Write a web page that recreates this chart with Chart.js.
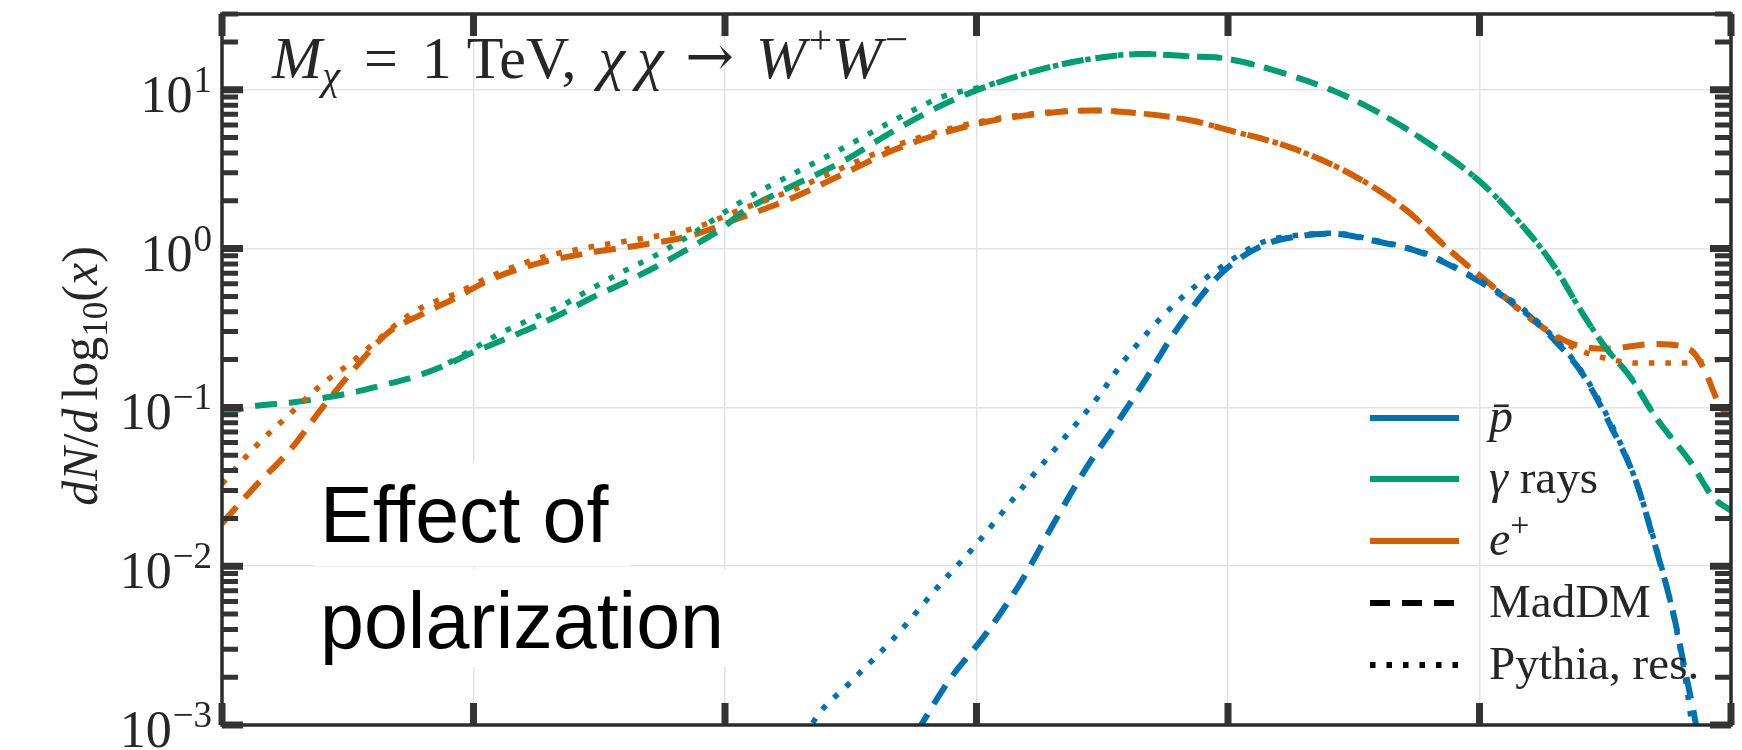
<!DOCTYPE html>
<html>
<head>
<meta charset="utf-8">
<script src="https://cdn.jsdelivr.net/npm/chart.js@4.4.1/dist/chart.umd.min.js"></script>
<style>
  html, body { margin: 0; padding: 0; background: #fff; }
  #wrap { width: 1742px; height: 750px; position: relative; }
</style>
</head>
<body>
<div id="wrap"><canvas id="spectra"></canvas></div>
<script>
// x values are log10(x), y values are dN/dlog10(x)

// gamma rays
const gammaMadX = [-6.00, -5.87, -5.73, -5.49, -5.36, -5.24, -5.12, -5.01, -4.89, -4.77, -4.65, -4.53, -4.41, -4.28, -4.14, -4.01, -3.93, -3.77, -3.53, -3.33, -3.13, -2.98, -2.74, -2.54, -2.34, -2.14, -2.02, -1.75, -1.49, -1.22, -0.99, -0.80, -0.70, -0.59, -0.50, -0.40, -0.30, -0.16, -0.07, 0.00];
const gammaMadY = [0.091, 0.102, 0.107, 0.123, 0.138, 0.155, 0.182, 0.219, 0.263, 0.316, 0.389, 0.49, 0.60, 0.76, 1.01, 1.35, 1.70, 2.32, 3.55, 5.5, 8.1, 10.2, 13.5, 15.7, 16.8, 16.2, 15.8, 12.3, 8.5, 4.8, 2.57, 1.23, 0.76, 0.39, 0.24, 0.155, 0.087, 0.045, 0.027, 0.0224];
const gammaPyX = [-5.10, -5.01, -4.89, -4.77, -4.65, -4.53, -4.41, -4.28, -4.14, -3.93, -3.73, -3.53, -3.33, -3.13, -2.98, -2.74, -2.54, -2.34, -2.14, -2.02, -1.75, -1.49, -1.22, -0.99, -0.80, -0.70, -0.59, -0.50, -0.40, -0.30, -0.16, -0.07, 0.00];
const gammaPyY = [0.19, 0.229, 0.295, 0.36, 0.437, 0.56, 0.71, 0.90, 1.21, 2.0, 2.95, 4.3, 6.4, 9.1, 10.4, 13.5, 15.7, 16.8, 16.2, 15.8, 12.3, 8.5, 4.8, 2.57, 1.23, 0.76, 0.39, 0.24, 0.155, 0.087, 0.045, 0.027, 0.0224];

// positrons
const posMadX = [-6.00, -5.87, -5.73, -5.60, -5.47, -5.34, -5.20, -5.07, -4.94, -4.74, -4.54, -4.34, -4.14, -3.93, -3.73, -3.53, -3.33, -3.13, -2.94, -2.74, -2.54, -2.34, -2.14, -2.02, -1.75, -1.49, -1.29, -1.12, -0.96, -0.79, -0.63, -0.50, -0.30, -0.16, -0.11, -0.04, 0.00];
const posMadY = [0.0186, 0.0316, 0.0537, 0.100, 0.178, 0.295, 0.389, 0.49, 0.63, 0.81, 0.94, 1.05, 1.20, 1.58, 2.09, 2.95, 4.17, 5.37, 6.38, 7.08, 7.41, 7.08, 6.38, 5.69, 4.32, 2.82, 1.74, 0.98, 0.60, 0.355, 0.251, 0.234, 0.251, 0.229, 0.178, 0.100, 0.089];
const posPyX = [-6.00, -5.87, -5.73, -5.60, -5.49, -5.40, -5.30, -5.20, -5.07, -4.94, -4.74, -4.54, -4.34, -4.14, -3.93, -3.73, -3.53, -3.33, -3.13, -2.94, -2.74, -2.54, -2.34, -2.14, -2.02, -1.75, -1.49, -1.29, -1.12, -0.96, -0.79, -0.63, -0.50, -0.37, -0.16, -0.04, 0.00];
const posPyY = [0.033, 0.056, 0.091, 0.141, 0.19, 0.25, 0.34, 0.43, 0.52, 0.66, 0.87, 1.02, 1.15, 1.32, 1.78, 2.34, 3.24, 4.4, 5.56, 6.5, 7.16, 7.41, 7.08, 6.38, 5.69, 4.32, 2.82, 1.74, 0.98, 0.60, 0.355, 0.24, 0.204, 0.19, 0.19, 0.20, 0.20];

// antiprotons
const pbarMadX = [-3.24, -3.11, -2.96, -2.82, -2.70, -2.57, -2.43, -2.33, -2.21, -2.03, -1.86, -1.71, -1.58, -1.42, -1.22, -1.03, -0.83, -0.70, -0.59, -0.47, -0.38, -0.30, -0.23, -0.18, -0.14, -0.12];
const pbarMadY = [0.00089, 0.0019, 0.0038, 0.0081, 0.0178, 0.040, 0.085, 0.148, 0.30, 0.69, 1.05, 1.20, 1.24, 1.12, 0.93, 0.66, 0.41, 0.263, 0.162, 0.072, 0.035, 0.0132, 0.0051, 0.0021, 0.00102, 0.00063];
const pbarPyX = [-3.68, -3.64, -3.51, -3.33, -3.16, -3.00, -2.83, -2.67, -2.51, -2.41, -2.21, -2.03, -1.86, -1.71, -1.58, -1.42, -1.22, -1.03, -0.83, -0.70, -0.59, -0.47, -0.38, -0.30, -0.23, -0.18, -0.15];
const pbarPyY = [0.00083, 0.0011, 0.0018, 0.0035, 0.0072, 0.0138, 0.0295, 0.059, 0.12, 0.20, 0.45, 0.76, 1.10, 1.22, 1.25, 1.13, 0.94, 0.67, 0.42, 0.27, 0.165, 0.075, 0.035, 0.0135, 0.0050, 0.0019, 0.00085];

// axes
const xTicks = [-6, -5, -4, -3, -2, -1, 0];
const yTickExps = [-3, -2, -1, 0, 1];
const yMax = 30;

const BLUE = '#0072B2', GREEN = '#009E73', ORANGE = '#D55E00';
const INK = '#262626';
const DASH = [22, 12], DOT = [5.5, 11];

function pts(xs, ys) { return xs.map((x, i) => ({ x: x, y: ys[i] })); }

function series(label, xs, ys, color, dash, order) {
    return {
        label: label,
        data: pts(xs, ys),
        borderColor: color,
        borderWidth: dash === DOT ? 5.5 : 6,
        borderDash: dash,
        borderCapStyle: 'butt',
        cubicInterpolationMode: 'monotone',
        pointRadius: 0,
        fill: false,
        order: order
    };
}

// draw a row of text pieces with their own fonts / vertical offsets
function drawRuns(ctx, x, y, runs) {
    runs.forEach(r => {
        ctx.font = r.font;
        ctx.fillText(r.t, x, y + (r.dy || 0));
        x += ctx.measureText(r.t).width + (r.gap || 0);
    });
    return x;
}
function runsWidth(ctx, runs) {
    let w = 0;
    runs.forEach(r => { ctx.font = r.font; w += ctx.measureText(r.t).width + (r.gap || 0); });
    return w;
}

const SERIF = '"Liberation Serif", "DejaVu Serif", serif';
const it = s => 'italic ' + s + 'px ' + SERIF;
const rm = s => s + 'px ' + SERIF;

const decorations = {
    id: 'decorations',
    beforeDatasetsDraw(chart) {
        // white boxes behind the pasted-in label (they hide the grid)
        const ctx = chart.ctx;
        ctx.save();
        ctx.fillStyle = '#fff';
        ctx.fillRect(315, 463, 315, 103);
        ctx.fillRect(315, 569, 413, 98);
        ctx.restore();
    },
    afterDraw(chart) {
        const ctx = chart.ctx;
        const a = chart.chartArea;
        const xs = chart.scales.x, ys = chart.scales.y;
        ctx.save();

        // frame
        ctx.strokeStyle = '#2b2b2b';
        ctx.lineWidth = 3.5;
        ctx.strokeRect(a.left, a.top, a.right - a.left, a.bottom - a.top);

        // y ticks, both sides, pointing in
        ctx.strokeStyle = '#333';
        yTickExps.forEach(e => {
            for (let k = 1; k <= 9; k++) {
                const v = k * Math.pow(10, e);
                if (v > yMax) break;
                const py = ys.getPixelForValue(v);
                const len = k === 1 ? 21 : 16;
                ctx.lineWidth = k === 1 ? 7 : 5;
                ctx.beginPath();
                ctx.moveTo(a.left, py); ctx.lineTo(a.left + len, py);
                ctx.moveTo(a.right, py); ctx.lineTo(a.right - len, py);
                ctx.stroke();
            }
        });
        // x ticks, top and bottom
        ctx.lineWidth = 7;
        xTicks.forEach(v => {
            const px = xs.getPixelForValue(v);
            ctx.beginPath();
            ctx.moveTo(px, a.bottom); ctx.lineTo(px, a.bottom - 22);
            ctx.moveTo(px, a.top); ctx.lineTo(px, a.top + 22);
            ctx.stroke();
        });

        ctx.fillStyle = INK;
        ctx.textBaseline = 'alphabetic';

        // y tick labels 10^n
        yTickExps.forEach(e => {
            const py = ys.getPixelForValue(Math.pow(10, e));
            const sup = e < 0 ? '\u2212' + (-e) : String(e);
            ctx.font = rm(37);
            const sw = ctx.measureText(sup).width;
            const right = 212;
            ctx.fillText(sup, right - sw, py + 2);
            ctx.font = rm(52);
            const bw = ctx.measureText('10').width;
            ctx.fillText('10', right - sw - bw - 1, py + 22);
        });

        // y axis title, rotated
        const title = [
            { t: 'dN', font: it(50) }, { t: '/', font: rm(50) }, { t: 'd', font: it(50), gap: 8 },
            { t: 'log', font: rm(50) }, { t: '10', font: rm(35), dy: 10 },
            { t: '(', font: rm(50) }, { t: 'x', font: it(50) }, { t: ')', font: rm(50) }
        ];
        ctx.save();
        ctx.translate(97, 376);
        ctx.rotate(-Math.PI / 2);
        drawRuns(ctx, -runsWidth(ctx, title) / 2, 0, title);
        ctx.restore();

        // process annotation
        drawRuns(ctx, 272, 78, [
            { t: 'M', font: it(60) }, { t: '\u03c7', font: it(41), dy: 11, gap: 24 },
            { t: '=', font: rm(60), gap: 24 },
            { t: '1 TeV,', font: rm(60), gap: 22 },
            { t: '\u03c7', font: it(60), gap: 12 }, { t: '\u03c7', font: it(60), gap: 22 },
            { t: '\u2192', font: '58px "DejaVu Serif", serif', dy: -2, gap: 22 },
            { t: 'W', font: it(60), gap: 3 }, { t: '+', font: rm(41), dy: -25 },
            { t: 'W', font: it(60), gap: 3 }, { t: '\u2212', font: rm(41), dy: -25 }
        ]);

        // legend
        const lx0 = 1370, lx1 = 1459, tx = 1489;
        const rows = [418, 479, 541, 603, 665];
        const colours = [BLUE, GREEN, ORANGE, '#000', '#000'];
        const dashes = [[], [], [], [20, 12], [5.5, 11]];
        const texts = [
            [{ t: 'p\u0304', font: it(48) }],
            [{ t: '\u03b3', font: it(48) }, { t: ' rays', font: rm(47) }],
            [{ t: 'e', font: it(48) }, { t: '+', font: rm(34), dy: -19 }],
            [{ t: 'MadDM', font: rm(47) }],
            [{ t: 'Pythia, res.', font: rm(47) }]
        ];
        rows.forEach((ry, i) => {
            ctx.strokeStyle = colours[i];
            ctx.lineWidth = 6;
            ctx.lineCap = 'butt';
            ctx.setLineDash(dashes[i]);
            ctx.beginPath();
            ctx.moveTo(lx0, ry); ctx.lineTo(lx1, ry);
            ctx.stroke();
            ctx.setLineDash([]);
            ctx.fillStyle = INK;
            drawRuns(ctx, tx, ry + 14, texts[i]);
        });

        // pasted label
        ctx.fillStyle = '#000';
        ctx.font = '79px "Liberation Sans", Arial, sans-serif';
        ctx.fillText('Effect of', 320, 542);
        ctx.fillText('polarization', 320, 648);

        ctx.restore();
    }
};

new Chart(document.getElementById('spectra'), {
    type: 'line',
    data: {
        datasets: [
            series('p\u0304 Pythia', pbarPyX, pbarPyY, BLUE, DOT, 0),
            series('\u03b3 Pythia', gammaPyX, gammaPyY, GREEN, DOT, 0),
            series('e+ Pythia', posPyX, posPyY, ORANGE, DOT, 0),
            series('p\u0304 MadDM', pbarMadX, pbarMadY, BLUE, DASH, 1),
            series('\u03b3 MadDM', gammaMadX, gammaMadY, GREEN, DASH, 1),
            series('e+ MadDM', posMadX, posMadY, ORANGE, DASH, 1)
        ]
    },
    options: {
        responsive: true,
        maintainAspectRatio: false,
        animation: false,
        layout: { padding: { left: 222, right: 11, top: 14, bottom: 25 } },
        plugins: { legend: { display: false }, tooltip: { enabled: false } },
        scales: {
            x: {
                type: 'linear', min: -6, max: 0,
                ticks: { display: false, stepSize: 1 },
                grid: { color: '#e4e4e4', lineWidth: 1.5, drawTicks: false },
                border: { display: false }
            },
            y: {
                type: 'logarithmic', min: 1e-3, max: yMax,
                afterBuildTicks: s => { s.ticks = yTickExps.map(e => ({ value: Math.pow(10, e) })); },
                ticks: { display: false },
                grid: { color: '#e4e4e4', lineWidth: 1.5, drawTicks: false },
                border: { display: false }
            }
        }
    },
    plugins: [decorations]
});
</script>
</body>
</html>
